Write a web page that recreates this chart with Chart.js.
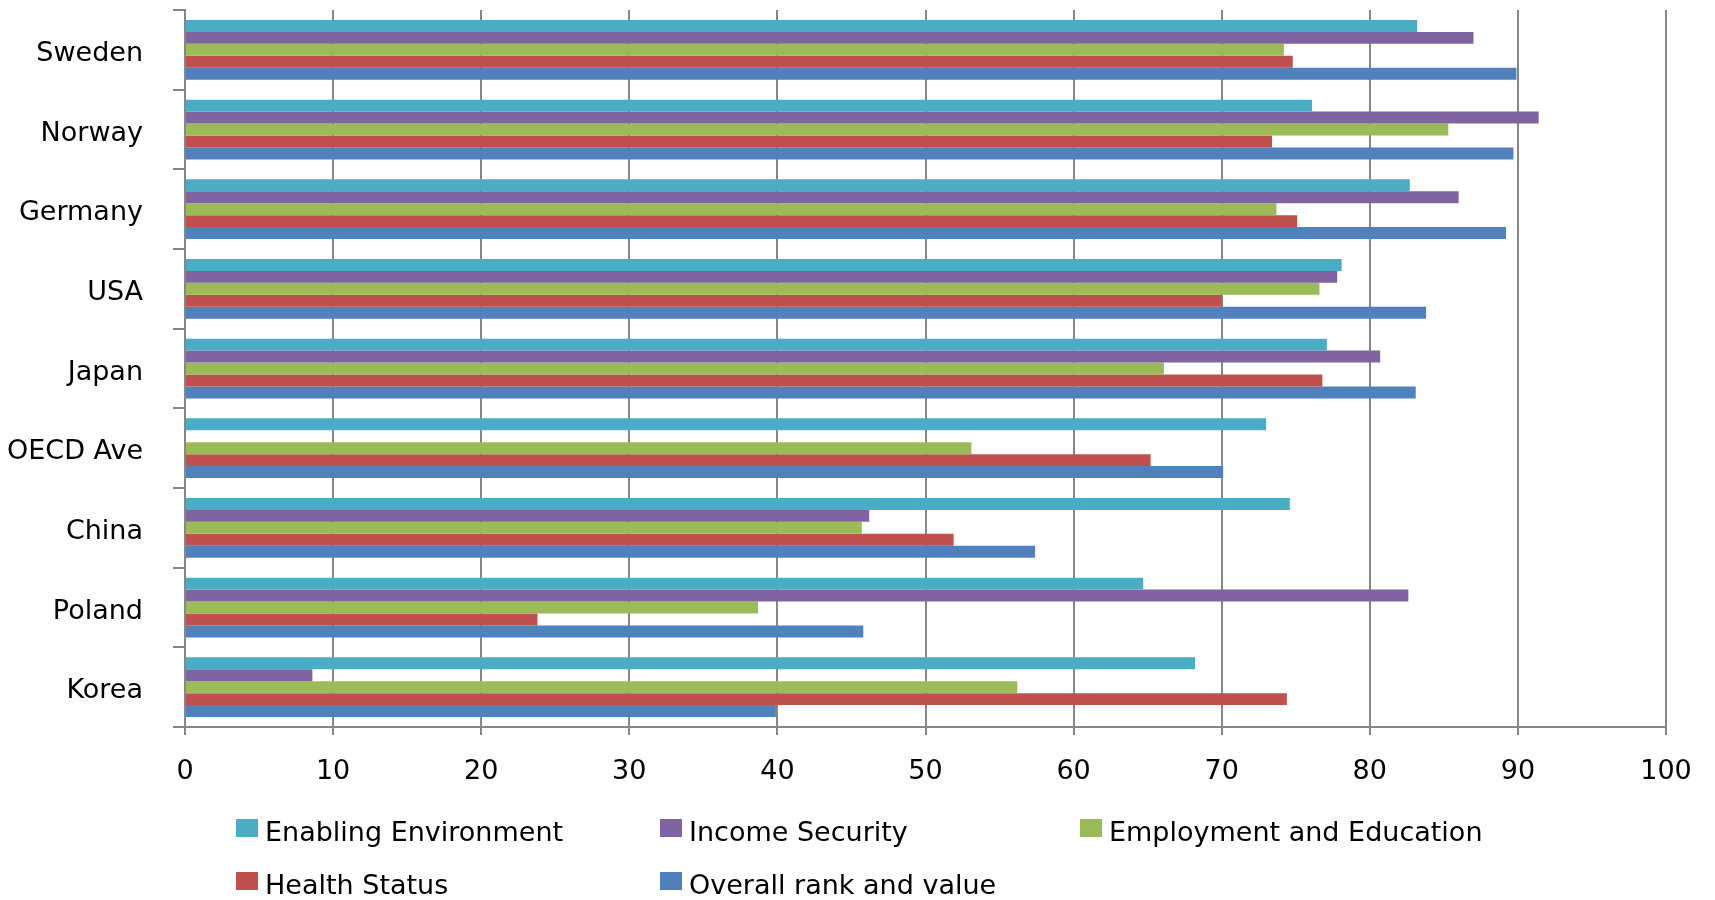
<!DOCTYPE html>
<html>
<head>
<meta charset="utf-8">
<title>Age Watch index by country</title>
<script src="https://cdn.jsdelivr.net/npm/chart.js@4.4.1/dist/chart.umd.min.js"></script>
<style>
  html, body { margin: 0; padding: 0; background: #fff; }
  #wrap { position: relative; width: 1715px; height: 900px; }
</style>
</head>
<body>
<div id="wrap"><canvas id="barChart"></canvas></div>
<script>
const countries = ["Sweden", "Norway", "Germany", "USA", "Japan", "OECD Ave", "China", "Poland", "Korea"];

const enablingEnv = [83.2, 76.1, 82.7, 78.1, 77.1, 73.0, 74.6, 64.7, 68.2];
const incomeSecurity = [87.0, 91.4, 86.0, 77.8, 80.7, null, 46.2, 82.6, 8.6];
const employmentEdu = [74.2, 85.3, 73.7, 76.6, 66.1, 53.1, 45.7, 38.7, 56.2];
const healthStatus = [74.8, 73.4, 75.1, 70.0, 76.8, 65.2, 51.9, 23.8, 74.4];
const overallRank = [89.9, 89.7, 89.2, 83.8, 83.1, 70.1, 57.4, 45.8, 39.9];

const seriesNames = ["Enabling Environment", "Income Security", "Employment and Education", "Health Status", "Overall rank and value"];
const seriesColors = ["#4BACC6", "#8064A2", "#9BBB59", "#C0504D", "#4F81BD"];

const FONT = "'DejaVu Sans', sans-serif";
const GRID = "#878787";

// legend laid out on a fixed 3-column grid under the axis
const legendGrid = {
  id: "legendGrid",
  afterDraw(chart) {
    const ctx = chart.ctx;
    const cols = [236, 660, 1080];
    const rows = [819, 872];
    ctx.save();
    ctx.font = "27px " + FONT;
    ctx.textBaseline = "alphabetic";
    chart.data.datasets.forEach((ds, i) => {
      const x = cols[i % 3];
      const y = rows[Math.floor(i / 3)];
      ctx.fillStyle = ds.backgroundColor;
      ctx.fillRect(x, y, 22, 18);
      ctx.fillStyle = "#000";
      ctx.fillText(ds.label, x + 29, y + 22);
    });
    ctx.restore();
  }
};

function renderChart() {
  const ctx = document.getElementById("barChart").getContext("2d");
  const values = [enablingEnv, incomeSecurity, employmentEdu, healthStatus, overallRank];

  new Chart(ctx, {
    type: "bar",
    data: {
      labels: countries,
      datasets: values.map((data, i) => ({
        label: seriesNames[i],
        data: data,
        backgroundColor: seriesColors[i],
        borderWidth: 0,
        categoryPercentage: 0.75,
        barPercentage: 1.0
      }))
    },
    options: {
      indexAxis: "y",
      responsive: true,
      maintainAspectRatio: false,
      animation: false,
      devicePixelRatio: 1,
      layout: { padding: { left: 0, right: 49, top: 10, bottom: 103 } },
      plugins: {
        legend: { display: false },
        tooltip: { enabled: false }
      },
      scales: {
        x: {
          min: 0,
          max: 100,
          ticks: {
            stepSize: 10,
            color: "#000",
            font: { family: FONT, size: 27 },
            padding: 21,
            maxRotation: 0
          },
          grid: { color: GRID, lineWidth: 2, tickLength: 8 },
          border: { display: true, color: GRID, width: 2 },
          afterFit(scale) { scale.height = 70; }
        },
        y: {
          ticks: {
            color: "#000",
            font: { family: FONT, size: 27 },
            padding: 30,
            labelOffset: 4
          },
          grid: { offset: true, drawOnChartArea: false, color: GRID, lineWidth: 2, tickLength: 12 },
          border: { display: true, color: GRID, width: 2 },
          afterFit(scale) {
            scale.width = 185;
            scale.paddingTop = 0;
            scale.paddingBottom = 0;
          }
        }
      }
    },
    plugins: [legendGrid]
  });
}

renderChart();
</script>
</body>
</html>
